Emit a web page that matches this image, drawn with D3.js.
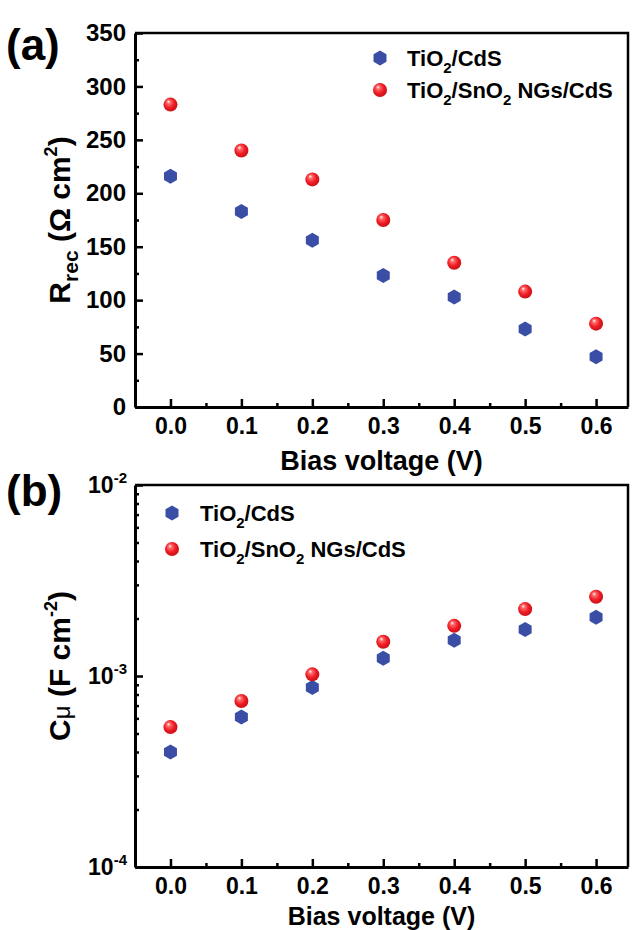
<!DOCTYPE html>
<html>
<head>
<meta charset="utf-8">
<script src="https://cdn.jsdelivr.net/npm/d3@7"></script>
<style>
  body { margin: 0; background: #fff; }
  svg { font-family: "Liberation Sans", Arial, sans-serif; font-weight: bold; }
</style>
</head>
<body>
<div id="content"></div>
<script>
// bias voltage points, shared by both panels
const voltages = [0.0, 0.1, 0.2, 0.3, 0.4, 0.5, 0.6];
const xTicks = [0.0, 0.1, 0.2, 0.3, 0.4, 0.5, 0.6];

// panel (a) recombination resistance, Ohm cm^2
const rrecTiO2CdS = [216, 183, 156, 123, 103, 73, 47];
const rrecSnO2 = [283, 240, 213, 175, 135, 108, 78];
const rrecTicks = [0, 50, 100, 150, 200, 250, 300, 350];

// panel (b) chemical capacitance, F cm^-2
const cmuTiO2CdS = [4.0e-4, 6.1e-4, 8.7e-4, 1.24e-3, 1.54e-3, 1.75e-3, 2.03e-3];
const cmuSnO2 = [5.4e-4, 7.4e-4, 1.02e-3, 1.51e-3, 1.83e-3, 2.24e-3, 2.6e-3];
const cmuTicks = [1e-4, 1e-3, 1e-2];

const seriesNames = ['TiO2/CdS', 'TiO2/SnO2 NGs/CdS'];

const W = 633, H = 930;
const svg = d3.select('#content').append('svg')
    .attr('width', W)
    .attr('height', H);

const defs = svg.append('defs');
const grad = defs.append('radialGradient')
    .attr('id', 'ball')
    .attr('cx', '45%').attr('cy', '45%').attr('r', '60%')
    .attr('fx', '35%').attr('fy', '28%');
grad.append('stop').attr('offset', '0%').attr('stop-color', '#ffffff');
grad.append('stop').attr('offset', '22%').attr('stop-color', '#ff6a6a');
grad.append('stop').attr('offset', '60%').attr('stop-color', '#ee1c24');
grad.append('stop').attr('offset', '100%').attr('stop-color', '#c40d14');

const blue = '#3a4ea6';

function hexPath(r) {
    const pts = d3.range(6).map(i => {
        const a = Math.PI / 2 + i * Math.PI / 3;
        return [r * Math.cos(a), r * Math.sin(a)];
    });
    return 'M' + pts.map(p => p.join(',')).join('L') + 'Z';
}

function drawMarker(g, kind) {
    if (kind === 0) {
        g.append('path').attr('d', hexPath(7.5)).attr('fill', blue);
    } else {
        g.append('circle').attr('r', 7).attr('fill', 'url(#ball)');
    }
}

function legendText(g, name) {
    const t = g.append('text').attr('font-size', 22).attr('dy', '0.35em');
    if (name === 'TiO2/CdS') {
        t.append('tspan').text('TiO');
        t.append('tspan').text('2').attr('font-size', 15).attr('dy', 7);
        t.append('tspan').text('/CdS').attr('dy', -7);
    } else {
        t.append('tspan').text('TiO');
        t.append('tspan').text('2').attr('font-size', 15).attr('dy', 7);
        t.append('tspan').text('/SnO').attr('dy', -7);
        t.append('tspan').text('2').attr('font-size', 15).attr('dy', 7);
        t.append('tspan').text(' NGs/CdS').attr('dy', -7);
    }
}

function frame(g, x0, x1, y0, y1) {
    g.append('path')
        .attr('d', `M${x0},${y0}H${x1}V${y1}`)
        .attr('fill', 'none').attr('stroke', '#000').attr('stroke-width', 2.5);
}

function styleAxis(sel) {
    sel.select('.domain').attr('stroke-width', 3);
    sel.selectAll('.tick line').attr('stroke-width', 2.5);
    sel.selectAll('.tick text').attr('fill', '#000');
}

function drawXAxis(g, x, y1) {
    const ax = g.append('g').attr('transform', `translate(0,${y1})`)
        .call(d3.axisBottom(x).tickValues(xTicks).tickFormat(d3.format('.1f'))
            .tickSize(-8).tickSizeOuter(0).tickPadding(11))
        .attr('font-size', 23).attr('font-family', null);
    styleAxis(ax);
    g.append('g').attr('transform', `translate(0,${y1})`)
        .call(d3.axisBottom(x).tickValues(xTicks.slice(0, -1).map(v => v + 0.05))
            .tickFormat('').tickSize(-4).tickSizeOuter(0))
        .call(s => s.select('.domain').remove())
        .selectAll('.tick line').attr('stroke-width', 2.5);
}

// ---------- panel (a) ----------
const A = { left: 135, right: 628, top: 33, bottom: 407 };
const xA = d3.scaleLinear().domain([-0.05, 0.645]).range([A.left, A.right]);
const yA = d3.scaleLinear().domain([0, 350]).range([A.bottom, A.top]);

const gA = svg.append('g');
frame(gA, A.left, A.right, A.top, A.bottom);
drawXAxis(gA, xA, A.bottom);
const ayA = gA.append('g').attr('transform', `translate(${A.left},0)`)
    .call(d3.axisLeft(yA).tickValues(rrecTicks).tickSize(-8).tickSizeOuter(0).tickPadding(9))
    .attr('font-size', 24).attr('font-family', null);
styleAxis(ayA);
gA.append('g').attr('transform', `translate(${A.left},0)`)
    .call(d3.axisLeft(yA).tickValues(d3.range(25, 350, 50)).tickFormat('').tickSize(-4).tickSizeOuter(0))
    .call(s => s.select('.domain').remove())
    .selectAll('.tick line').attr('stroke-width', 2.5);

[rrecTiO2CdS, rrecSnO2].forEach((vals, k) => {
    gA.append('g').selectAll('g.pt').data(voltages.map((v, i) => [v, vals[i]]))
        .join('g').attr('class', 'pt')
        .attr('transform', d => `translate(${xA(d[0])},${yA(d[1])})`)
        .each(function () { drawMarker(d3.select(this), k); });
});

gA.append('text').attr('x', 6).attr('y', 60).attr('font-size', 44).text('(a)');
gA.append('text').attr('x', (A.left + A.right) / 2).attr('y', 470)
    .attr('text-anchor', 'middle').attr('font-size', 27).text('Bias voltage (V)');
const ylA = gA.append('text').attr('transform', `translate(70,${(A.top + A.bottom) / 2}) rotate(-90)`)
    .attr('text-anchor', 'middle').attr('font-size', 30);
ylA.append('tspan').text('R');
ylA.append('tspan').text('rec').attr('font-size', 21).attr('dy', 8);
ylA.append('tspan').text(' (\u03A9 cm').attr('dy', -8);
ylA.append('tspan').text('2').attr('font-size', 18).attr('dy', -13);
ylA.append('tspan').text(')').attr('dy', 13);

seriesNames.forEach((n, k) => {
    const lg = gA.append('g').attr('transform', `translate(380,${58 + k * 32})`);
    drawMarker(lg, k);
    legendText(lg.append('g').attr('transform', 'translate(27,0)'), n);
});

// ---------- panel (b) ----------
const B = { left: 135, right: 628, top: 485, bottom: 867 };
const xB = d3.scaleLinear().domain([-0.05, 0.645]).range([B.left, B.right]);
const yB = d3.scaleLog().domain([1e-4, 1e-2]).range([B.bottom, B.top]);

const gB = svg.append('g');
frame(gB, B.left, B.right, B.top, B.bottom);
drawXAxis(gB, xB, B.bottom);
const ayB = gB.append('g').attr('transform', `translate(${B.left},0)`)
    .call(d3.axisLeft(yB).tickValues(cmuTicks).tickFormat('').tickSize(-8).tickSizeOuter(0).tickPadding(8))
    .attr('font-size', 23).attr('font-family', null);
styleAxis(ayB);
ayB.selectAll('.tick text').each(function (d) {
    const t = d3.select(this);
    t.append('tspan').text('10');
    t.append('tspan').text(String(Math.round(Math.log10(d))))
        .attr('font-size', 15).attr('dy', -10);
});
const minorLog = [];
[1e-4, 1e-3].forEach(dec => d3.range(2, 10).forEach(m => minorLog.push(dec * m)));
gB.append('g').attr('transform', `translate(${B.left},0)`)
    .call(d3.axisLeft(yB).tickValues(minorLog).tickFormat('').tickSize(-4).tickSizeOuter(0))
    .call(s => s.select('.domain').remove())
    .selectAll('.tick line').attr('stroke-width', 2.5);

[cmuTiO2CdS, cmuSnO2].forEach((vals, k) => {
    gB.append('g').selectAll('g.pt').data(voltages.map((v, i) => [v, vals[i]]))
        .join('g').attr('class', 'pt')
        .attr('transform', d => `translate(${xB(d[0])},${yB(d[1])})`)
        .each(function () { drawMarker(d3.select(this), k); });
});

gB.append('text').attr('x', 6).attr('y', 506).attr('font-size', 44).text('(b)');
gB.append('text').attr('x', (B.left + B.right) / 2).attr('y', 925)
    .attr('text-anchor', 'middle').attr('font-size', 25).text('Bias voltage (V)');
const ylB = gB.append('text').attr('transform', `translate(70,${(B.top + B.bottom) / 2 - 10}) rotate(-90)`)
    .attr('text-anchor', 'middle').attr('font-size', 30);
ylB.append('tspan').text('C');
ylB.append('tspan').text('\u03BC').attr('font-size', 24).attr('font-weight', 'normal');
ylB.append('tspan').text(' (F cm');
ylB.append('tspan').text('-2').attr('font-size', 18).attr('dy', -13);
ylB.append('tspan').text(')').attr('dy', 13);

seriesNames.forEach((n, k) => {
    const lg = gB.append('g').attr('transform', `translate(172,${513 + k * 36})`);
    drawMarker(lg, k);
    legendText(lg.append('g').attr('transform', 'translate(28,0)'), n);
});
</script>
</body>
</html>
